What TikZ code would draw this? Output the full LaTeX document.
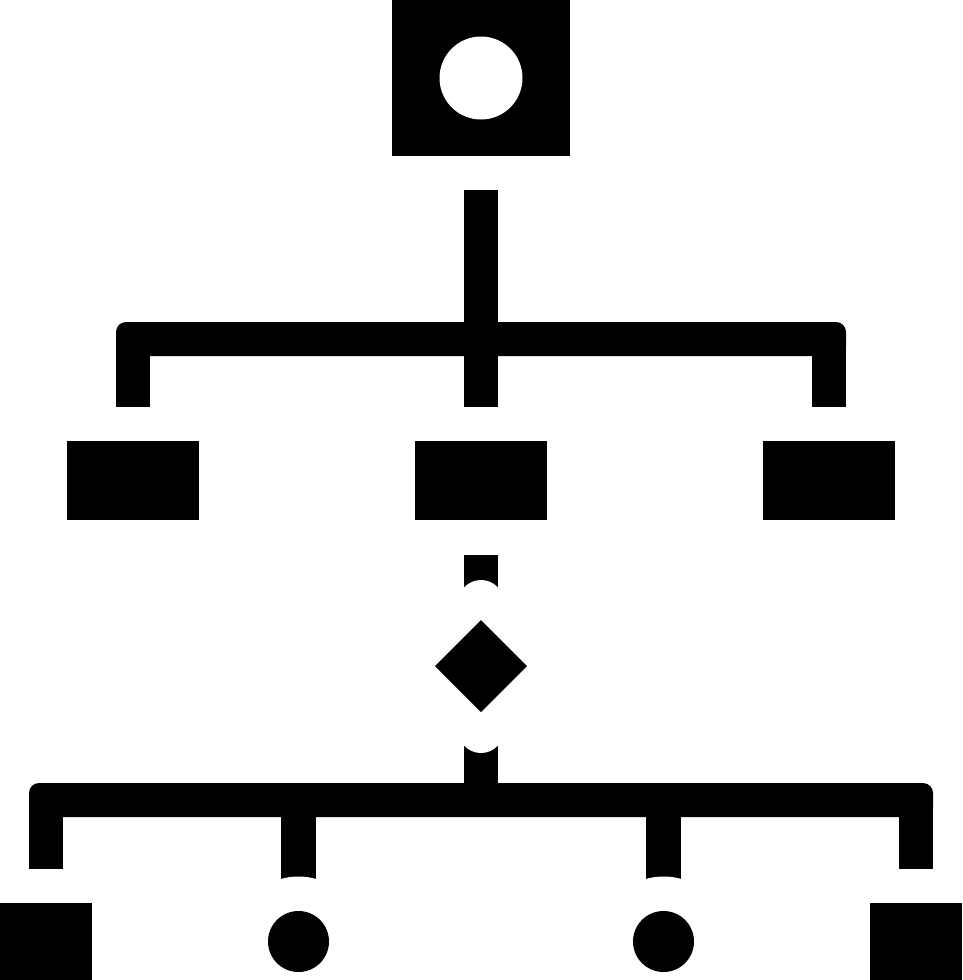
\documentclass[tikz,border=0pt]{standalone}
\usetikzlibrary{shapes.geometric}
\tikzset{
  box/.style={rectangle, fill=black, inner sep=0pt, outer sep=0pt},
  dot/.style={circle, fill=black, inner sep=0pt, outer sep=0pt},
  hole/.style={circle, fill=white, inner sep=0pt, outer sep=0pt},
  gem/.style={diamond, fill=black, inner sep=0pt, outer sep=0pt, minimum width=92pt, minimum height=92pt},
  link/.style={fill=black},
  gap/.style={fill=white}
}
\begin{document}
\begin{tikzpicture}[x=1pt,y=-1pt]
\useasboundingbox (0,0) rectangle (962,980);
% root
\node[box, minimum width=178pt, minimum height=156pt] (root) at (481,78) {};
\node[hole, minimum size=83pt] (eye) at (481,78) {};
% upper connector
\fill[link] (464,190) rectangle (498,407);
\fill[link, rounded corners=10pt] (116,322) rectangle (846,356);
\fill[link] (116,332) rectangle (150,407);
\fill[link] (812,332) rectangle (846,407);
% middle boxes
\node[box, minimum width=132pt, minimum height=79pt] (mleft) at (133,480.5) {};
\node[box, minimum width=132pt, minimum height=79pt] (mmid) at (481,480.5) {};
\node[box, minimum width=132pt, minimum height=79pt] (mright) at (828.5,480.5) {};
% stems around decision
\fill[link] (464,555) rectangle (498,590);
\fill[gap] (481,603) circle (23);
\fill[link] (464,740) rectangle (498,800);
\fill[gap] (481,730) circle (23);
\node[gem] (decide) at (481,666) {};
% lower connector
\fill[link, rounded corners=10pt] (29,783) rectangle (933,817);
\fill[link] (29,793) rectangle (63,869);
\fill[link] (899,793) rectangle (933,869);
\fill[link] (281,810) rectangle (316,881);
\fill[link] (646,810) rectangle (681,881);
\fill[gap] (298.5,941.5) circle (65);
\fill[gap] (663.5,941.5) circle (65);
% leaves
\node[box, minimum width=92pt, minimum height=77pt] (lleft) at (46,941.5) {};
\node[dot, minimum size=61pt] (cleft) at (298.5,941.5) {};
\node[dot, minimum size=61pt] (cright) at (663.5,941.5) {};
\node[box, minimum width=92pt, minimum height=77pt] (lright) at (916,941.5) {};
\end{tikzpicture}
\end{document}
